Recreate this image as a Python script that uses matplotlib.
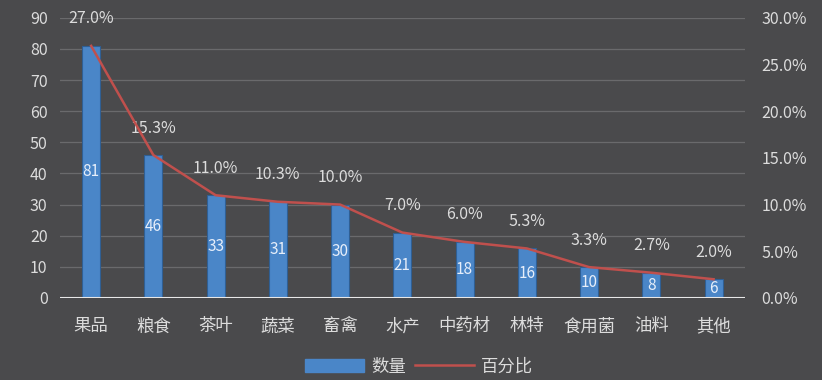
import matplotlib
matplotlib.use("Agg")
import matplotlib.pyplot as plt
import numpy as np
from matplotlib.ticker import FuncFormatter
from matplotlib.patches import Patch
from matplotlib.lines import Line2D

plt.rcParams['font.family'] = ['Noto Sans CJK SC', 'DejaVu Sans']

categories = ["果品", "粮食", "茶叶", "蔬菜", "畜禽", "水产", "中药材", "林特", "食用菌", "油料", "其他"]
counts = [81, 46, 33, 31, 30, 21, 18, 16, 10, 8, 6]
percents = [27.0, 15.3, 11.0, 10.3, 10.0, 7.0, 6.0, 5.3, 3.3, 2.7, 2.0]

bg = "#4a4a4c"
txt = "#dcdcdc"
bar_c = "#4a86c8"
line_c = "#c0504d"

fig = plt.figure(figsize=(8.22, 3.8), dpi=100, facecolor=bg)
ax = fig.add_axes([0.073, 0.216, 0.833, 0.737])
ax.set_facecolor(bg)
x = np.arange(len(categories))
ax.bar(x, counts, width=0.29, color=bar_c, edgecolor="#2f5f94", linewidth=0.8, zorder=3)
ax.set_ylim(0, 90)
ax.set_xlim(-0.5, len(categories) - 0.5)
ax.set_yticks(range(0, 91, 10))
ax.yaxis.grid(True, color="#6a6a6c", linewidth=0.9, zorder=0)
for s in ax.spines.values():
    s.set_visible(False)
ax.axhline(0, color="#e8e8e8", linewidth=1.5, zorder=4)
ax.set_xticks(x)
ax.set_xticklabels(categories, fontsize=12.5, color=txt)
ax.tick_params(axis='both', length=0, colors=txt)
ax.tick_params(axis='y', labelsize=11.5, pad=9)
ax.tick_params(axis='x', pad=14)
for xi, c in zip(x, counts):
    ax.text(xi, c / 2, str(c), ha='center', va='center', color="#e6eefa", fontsize=11, zorder=5)

ax2 = ax.twinx()
ax2.set_ylim(0, 30)
ax2.set_yticks(np.arange(0, 31, 5))
ax2.yaxis.set_major_formatter(FuncFormatter(lambda v, p: f"{v:.1f}%"))
ax2.tick_params(axis='y', length=0, colors=txt, labelsize=11.5, pad=12)
for s in ax2.spines.values():
    s.set_visible(False)
ax2.plot(x, percents, color=line_c, linewidth=1.8, zorder=6)
for xi, p in zip(x, percents):
    ax2.annotate(f"{p:.1f}%", (xi, p), xytext=(0, 27), textcoords='offset pixels',
                 ha='center', va='center', color=txt, fontsize=11.5)

handles = [Patch(facecolor=bar_c, edgecolor=bar_c), Line2D([0], [0], color=line_c, linewidth=1.8)]
fig.legend(handles, ["数量", "百分比"], loc='center', bbox_to_anchor=(0.51, 0.035), ncol=2,
           frameon=False, fontsize=12.5, labelcolor=txt, handlelength=3.4, handleheight=0.8,
           columnspacing=0.5, handletextpad=0.4)

fig.savefig("out.png", dpi=100, facecolor=bg)
